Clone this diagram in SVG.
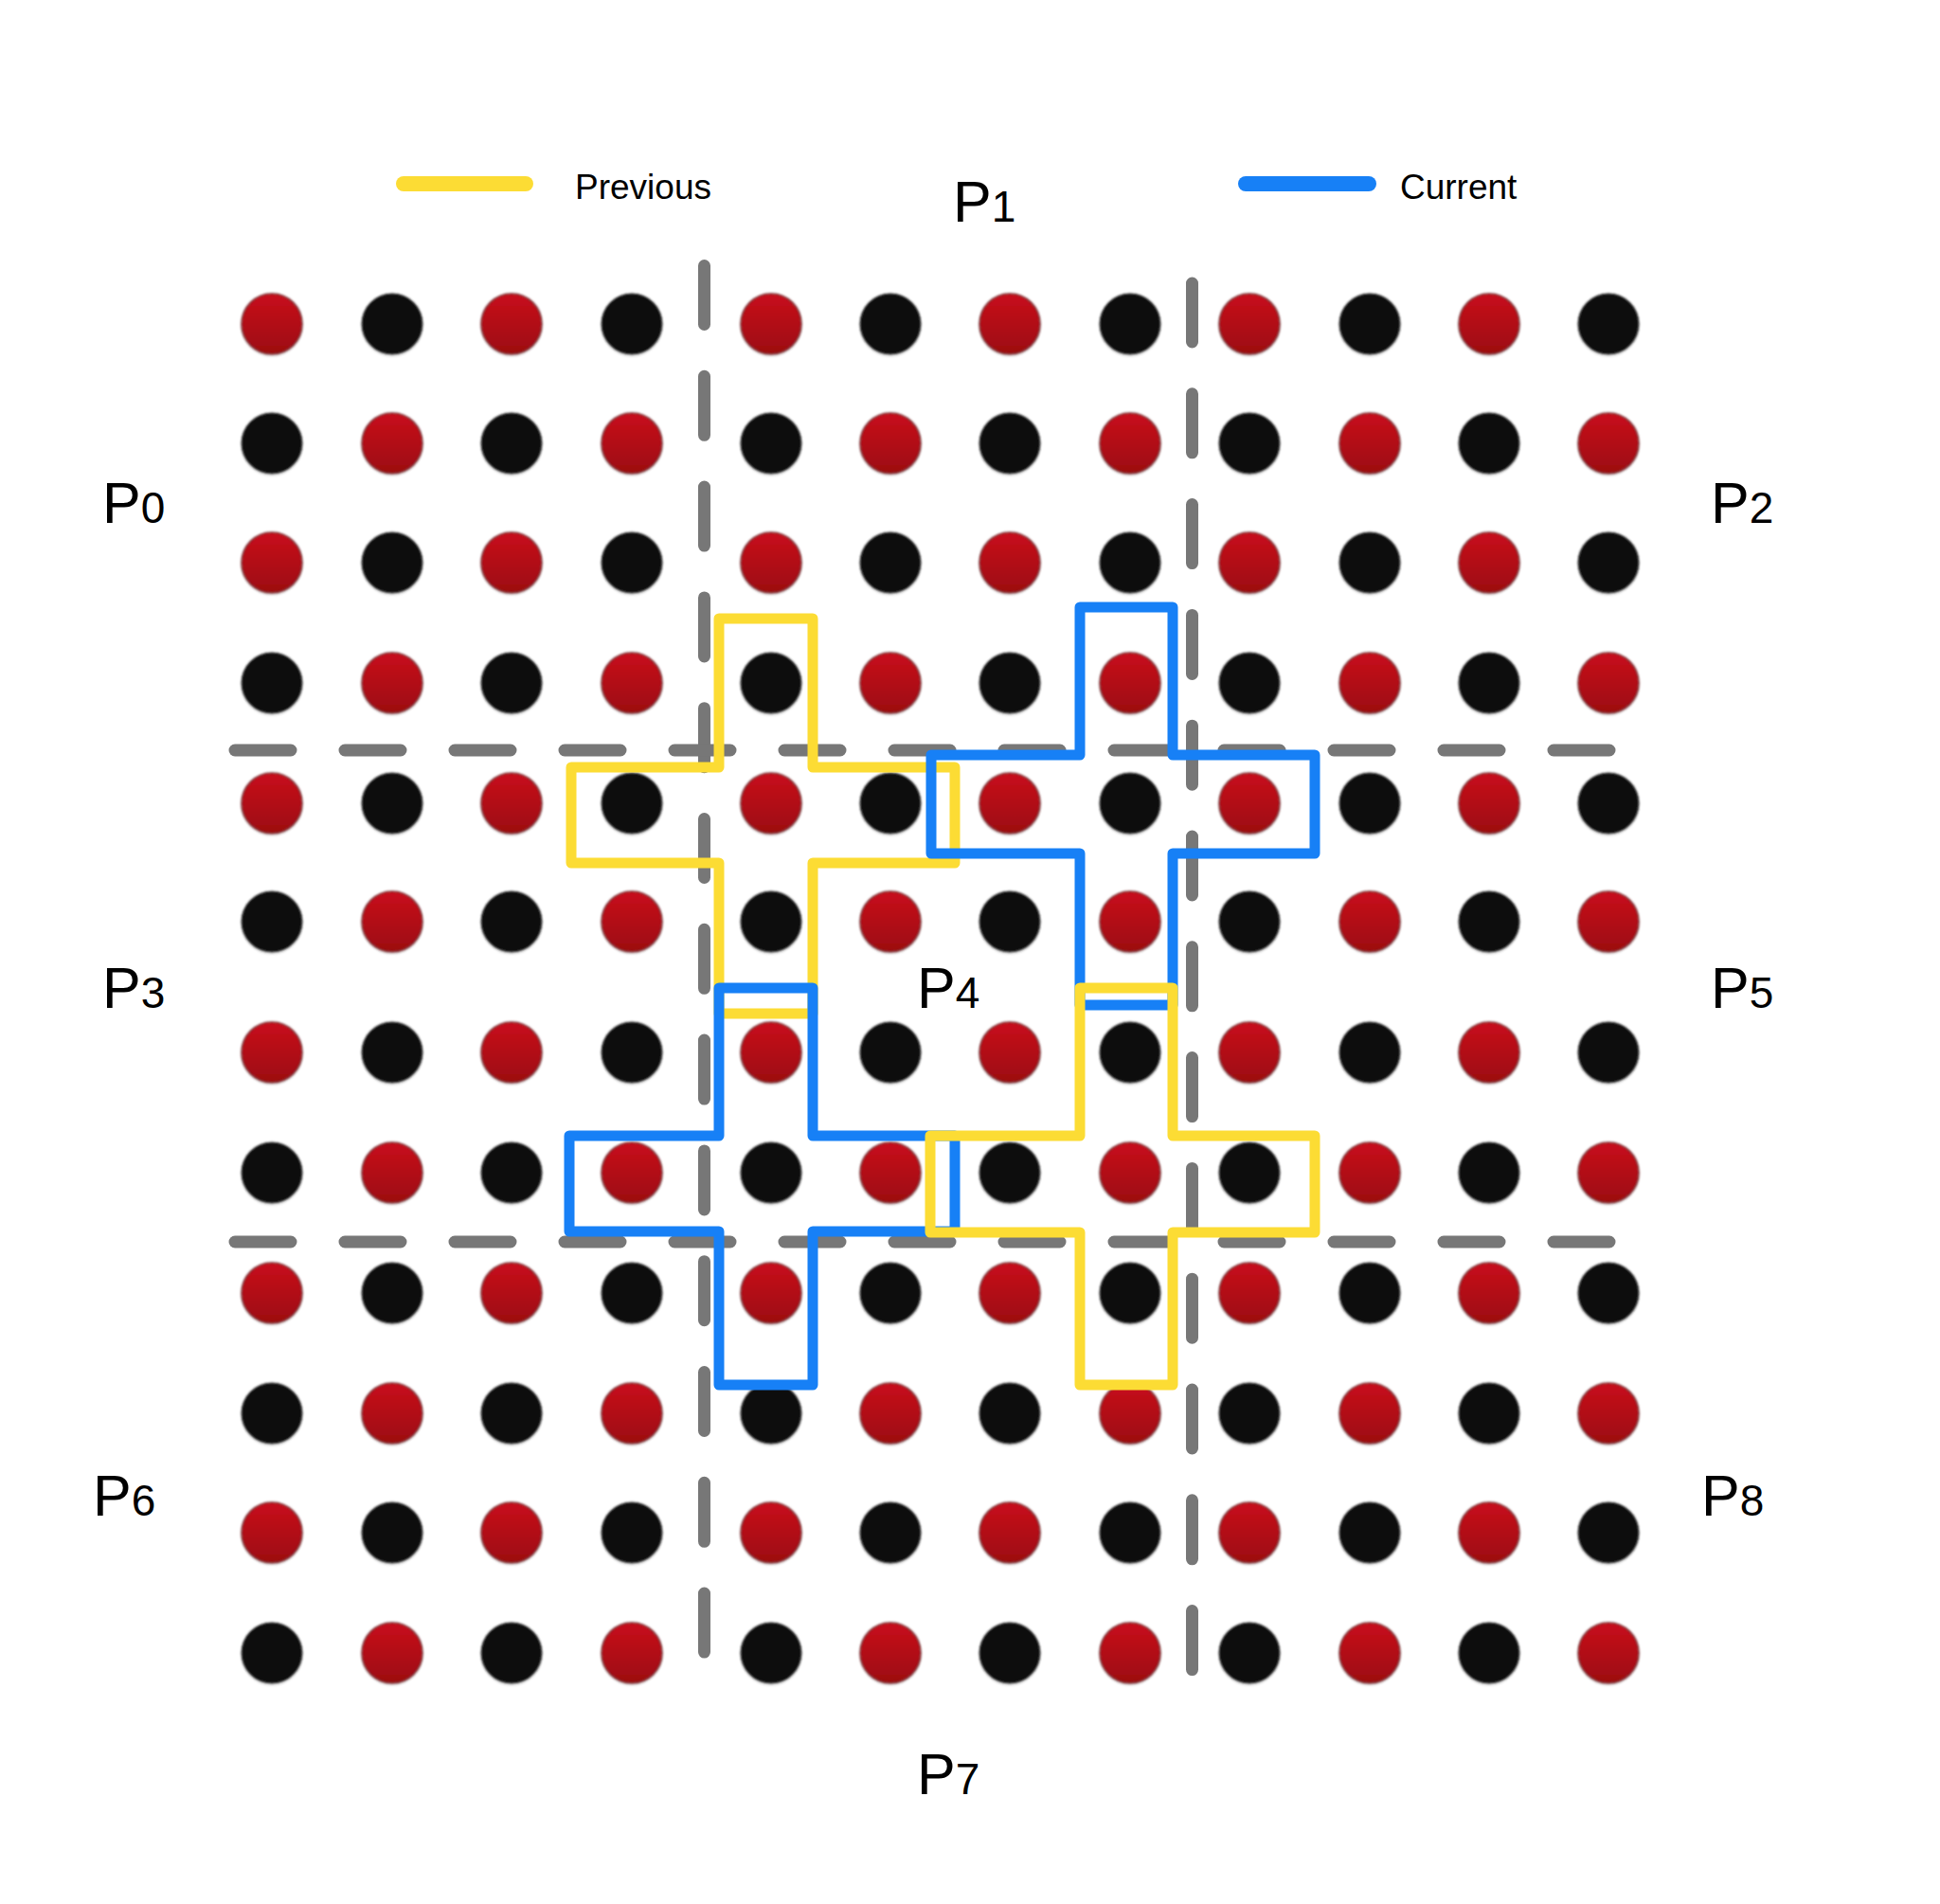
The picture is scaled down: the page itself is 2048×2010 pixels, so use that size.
<svg xmlns="http://www.w3.org/2000/svg" xmlns:xlink="http://www.w3.org/1999/xlink" width="2048" height="2010" viewBox="0 0 2048 2010">
<defs>
<style>
.lbl{font-family:"Liberation Sans","Helvetica",Arial,sans-serif;font-size:61px;fill:#000}
.sub{font-size:46px}
.leg{font-family:"Liberation Sans","Helvetica",Arial,sans-serif;font-size:37px;fill:#000}
.div{stroke:#777;stroke-width:13;stroke-linecap:round;stroke-dasharray:59 57;fill:none}
.vdiv{stroke:#777;stroke-width:13;stroke-linecap:round;stroke-dasharray:62 54.8;fill:none}
.prev{fill:none;stroke:#FCDC34;stroke-width:11;stroke-linejoin:round}
.cur{fill:none;stroke:#1780F6;stroke-width:11;stroke-linejoin:round}
</style>
<linearGradient id="gr" x1="0" y1="0" x2="0" y2="1">
<stop offset="0" stop-color="#c8121c"/>
<stop offset="1" stop-color="#9c0710"/>
</linearGradient>
<filter id="soft" x="-20%" y="-20%" width="140%" height="140%">
<feGaussianBlur stdDeviation="0.9"/>
</filter>
<g id="R"><circle r="33" cy="2" fill="#000" opacity="0.08" filter="url(#soft)"/><circle r="32" fill="url(#gr)" stroke="#7a3035" stroke-width="1.5" filter="url(#soft)"/></g>
<g id="B"><circle r="33" cy="2" fill="#000" opacity="0.08" filter="url(#soft)"/><circle r="32" fill="#0a0a0a" stroke="#333" stroke-width="1" filter="url(#soft)"/></g>
</defs>
<rect width="2048" height="2010" fill="#fff"/>

<g id="dots">
<g id="row-1" transform="translate(0,342)"><use href="#R" x="287"/><use href="#B" x="414"/><use href="#R" x="540"/><use href="#B" x="667"/><use href="#R" x="814"/><use href="#B" x="940"/><use href="#R" x="1066"/><use href="#B" x="1193"/><use href="#R" x="1319"/><use href="#B" x="1446"/><use href="#R" x="1572"/><use href="#B" x="1698"/></g>
<g id="row-2" transform="translate(0,468)"><use href="#B" x="287"/><use href="#R" x="414"/><use href="#B" x="540"/><use href="#R" x="667"/><use href="#B" x="814"/><use href="#R" x="940"/><use href="#B" x="1066"/><use href="#R" x="1193"/><use href="#B" x="1319"/><use href="#R" x="1446"/><use href="#B" x="1572"/><use href="#R" x="1698"/></g>
<g id="row-3" transform="translate(0,594)"><use href="#R" x="287"/><use href="#B" x="414"/><use href="#R" x="540"/><use href="#B" x="667"/><use href="#R" x="814"/><use href="#B" x="940"/><use href="#R" x="1066"/><use href="#B" x="1193"/><use href="#R" x="1319"/><use href="#B" x="1446"/><use href="#R" x="1572"/><use href="#B" x="1698"/></g>
<g id="row-4" transform="translate(0,721)"><use href="#B" x="287"/><use href="#R" x="414"/><use href="#B" x="540"/><use href="#R" x="667"/><use href="#B" x="814"/><use href="#R" x="940"/><use href="#B" x="1066"/><use href="#R" x="1193"/><use href="#B" x="1319"/><use href="#R" x="1446"/><use href="#B" x="1572"/><use href="#R" x="1698"/></g>
<g id="row-5" transform="translate(0,848)"><use href="#R" x="287"/><use href="#B" x="414"/><use href="#R" x="540"/><use href="#B" x="667"/><use href="#R" x="814"/><use href="#B" x="940"/><use href="#R" x="1066"/><use href="#B" x="1193"/><use href="#R" x="1319"/><use href="#B" x="1446"/><use href="#R" x="1572"/><use href="#B" x="1698"/></g>
<g id="row-6" transform="translate(0,973)"><use href="#B" x="287"/><use href="#R" x="414"/><use href="#B" x="540"/><use href="#R" x="667"/><use href="#B" x="814"/><use href="#R" x="940"/><use href="#B" x="1066"/><use href="#R" x="1193"/><use href="#B" x="1319"/><use href="#R" x="1446"/><use href="#B" x="1572"/><use href="#R" x="1698"/></g>
<g id="row-7" transform="translate(0,1111)"><use href="#R" x="287"/><use href="#B" x="414"/><use href="#R" x="540"/><use href="#B" x="667"/><use href="#R" x="814"/><use href="#B" x="940"/><use href="#R" x="1066"/><use href="#B" x="1193"/><use href="#R" x="1319"/><use href="#B" x="1446"/><use href="#R" x="1572"/><use href="#B" x="1698"/></g>
<g id="row-8" transform="translate(0,1238)"><use href="#B" x="287"/><use href="#R" x="414"/><use href="#B" x="540"/><use href="#R" x="667"/><use href="#B" x="814"/><use href="#R" x="940"/><use href="#B" x="1066"/><use href="#R" x="1193"/><use href="#B" x="1319"/><use href="#R" x="1446"/><use href="#B" x="1572"/><use href="#R" x="1698"/></g>
<g id="row-9" transform="translate(0,1365)"><use href="#R" x="287"/><use href="#B" x="414"/><use href="#R" x="540"/><use href="#B" x="667"/><use href="#R" x="814"/><use href="#B" x="940"/><use href="#R" x="1066"/><use href="#B" x="1193"/><use href="#R" x="1319"/><use href="#B" x="1446"/><use href="#R" x="1572"/><use href="#B" x="1698"/></g>
<g id="row-10" transform="translate(0,1492)"><use href="#B" x="287"/><use href="#R" x="414"/><use href="#B" x="540"/><use href="#R" x="667"/><use href="#B" x="814"/><use href="#R" x="940"/><use href="#B" x="1066"/><use href="#R" x="1193"/><use href="#B" x="1319"/><use href="#R" x="1446"/><use href="#B" x="1572"/><use href="#R" x="1698"/></g>
<g id="row-11" transform="translate(0,1618)"><use href="#R" x="287"/><use href="#B" x="414"/><use href="#R" x="540"/><use href="#B" x="667"/><use href="#R" x="814"/><use href="#B" x="940"/><use href="#R" x="1066"/><use href="#B" x="1193"/><use href="#R" x="1319"/><use href="#B" x="1446"/><use href="#R" x="1572"/><use href="#B" x="1698"/></g>
<g id="row-12" transform="translate(0,1745)"><use href="#B" x="287"/><use href="#R" x="414"/><use href="#B" x="540"/><use href="#R" x="667"/><use href="#B" x="814"/><use href="#R" x="940"/><use href="#B" x="1066"/><use href="#R" x="1193"/><use href="#B" x="1319"/><use href="#R" x="1446"/><use href="#B" x="1572"/><use href="#R" x="1698"/></g>
</g>

<g id="dividers">
<line class="vdiv" x1="743.5" y1="280.5" x2="743.5" y2="1745"/>
<line class="vdiv" x1="1258.5" y1="299" x2="1258.5" y2="1765"/>
<line class="div" x1="248" y1="792" x2="1710" y2="792"/>
<line class="div" x1="248" y1="1311" x2="1710" y2="1311"/>
</g>

<g id="regions">
<path id="prev-1" class="prev" d="M759,653 H858 V810 H1008 V911 H858 V1070 H759 V911 H603 V810 H759 Z"/>
<path id="cur-1" class="cur" d="M1140,641 H1238 V797 H1388 V901 H1238 V1061 H1140 V901 H983 V797 H1140 Z"/>
<path id="cur-2" class="cur" d="M759,1043 H858 V1199 H1008 V1300 H858 V1462 H759 V1300 H601 V1199 H759 Z"/>
<path id="prev-2" class="prev" d="M1140,1043 H1238 V1199 H1388 V1301 H1238 V1462 H1140 V1301 H982 V1199 H1140 Z"/>
</g>

<g id="legend">
<g id="legend-previous">
<line x1="426" y1="194" x2="555" y2="194" stroke="#FCDC34" stroke-width="16" stroke-linecap="round"/>
<text class="leg" x="607" y="210">Previous</text>
</g>
<g id="legend-current">
<line x1="1315" y1="194" x2="1445" y2="194" stroke="#1780F6" stroke-width="16" stroke-linecap="round"/>
<text class="leg" x="1478" y="210">Current</text>
</g>
</g>

<g id="labels">
<text id="P0" class="lbl" x="108" y="552">P<tspan class="sub">0</tspan></text>
<text id="P1" class="lbl" x="1006" y="234">P<tspan class="sub">1</tspan></text>
<text id="P2" class="lbl" x="1806" y="552">P<tspan class="sub">2</tspan></text>
<text id="P3" class="lbl" x="108" y="1064">P<tspan class="sub">3</tspan></text>
<text id="P4" class="lbl" x="968" y="1064">P<tspan class="sub">4</tspan></text>
<text id="P5" class="lbl" x="1806" y="1064">P<tspan class="sub">5</tspan></text>
<text id="P6" class="lbl" x="98" y="1600">P<tspan class="sub">6</tspan></text>
<text id="P7" class="lbl" x="968" y="1894">P<tspan class="sub">7</tspan></text>
<text id="P8" class="lbl" x="1796" y="1600">P<tspan class="sub">8</tspan></text>
</g>
</svg>
